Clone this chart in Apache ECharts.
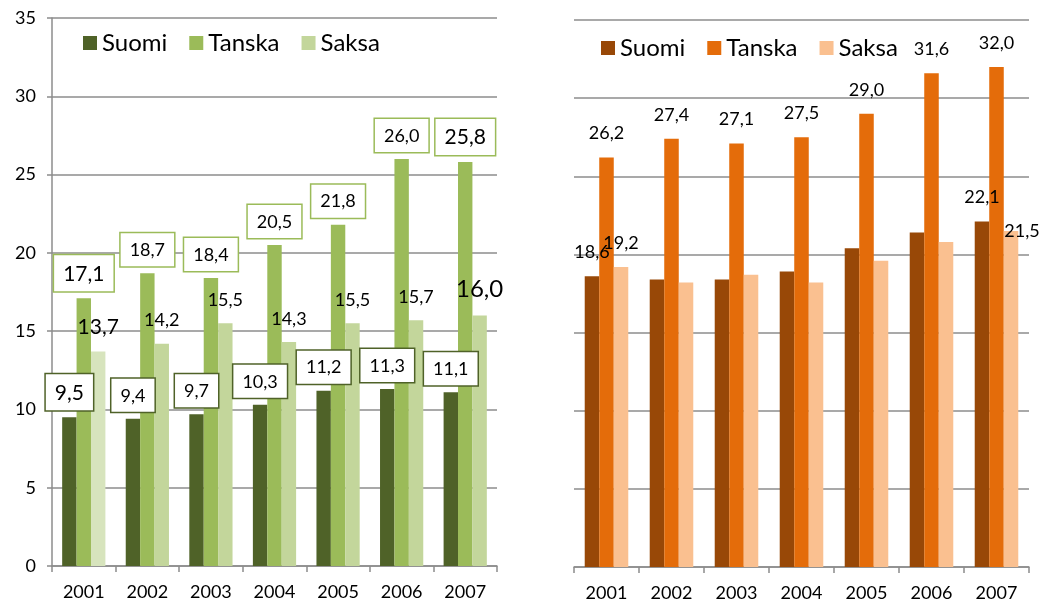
<!DOCTYPE html>
<html>
<head>
<meta charset="utf-8">
<script src="https://cdn.jsdelivr.net/npm/echarts@6/dist/echarts.min.js"></script>
<style>
  html, body { margin: 0; padding: 0; background: #fff; }
  #left { position: absolute; left: 0; top: 0; width: 530px; height: 605px; }
  #right { position: absolute; left: 530px; top: 0; width: 531px; height: 605px; }
</style>
</head>
<body>
<div id="left"></div>
<div id="right"></div>
<script>
// ---- data ----
const years = ['2001', '2002', '2003', '2004', '2005', '2006', '2007'];
const seriesNames = ['Suomi', 'Tanska', 'Saksa'];
const leftSuomi  = [9.5, 9.4, 9.7, 10.3, 11.2, 11.3, 11.1];
const leftTanska = [17.1, 18.7, 18.4, 20.5, 21.8, 26.0, 25.8];
const leftSaksa  = [13.7, 14.2, 15.5, 14.3, 15.5, 15.7, 16.0];
const rightSuomi  = [18.6, 18.4, 18.4, 18.9, 20.4, 21.4, 22.1];
const rightTanska = [26.2, 27.4, 27.1, 27.5, 29.0, 31.6, 32.0];
const rightSaksa  = [19.2, 18.2, 18.7, 18.2, 19.6, 20.8, 21.5];
const yMin = 0, yMax = 35, yStep = 5;

// ---- styling ----
const FONT = 'Lato';
const GRID_COLOR = '#8c8c8c';
const fmt = v => v.toFixed(1).replace('.', ',');

function boxedLabel(border, fontSize) {
  return {
    show: true, position: 'top', distance: 7,
    formatter: p => fmt(p.value),
    color: '#000', fontFamily: FONT, fontSize: fontSize,
    backgroundColor: '#fff', borderColor: border, borderWidth: 1.5,
    padding: [8, 9, 7, 9]
  };
}
function plainLabel(fontSize, extra) {
  return Object.assign({
    show: true, position: 'top', distance: 14,
    formatter: p => fmt(p.value),
    color: '#000', fontFamily: FONT, fontSize: fontSize
  }, extra || {});
}

function axes(showYLabels) {
  return {
    xAxis: {
      type: 'category', data: years,
      axisLine: { show: true, lineStyle: { color: GRID_COLOR, width: 1.5 } },
      axisTick: { show: true, length: 6, lineStyle: { color: GRID_COLOR, width: 1.5 } },
      axisLabel: { color: '#000', fontFamily: FONT, fontSize: 18, margin: 17 }
    },
    yAxis: {
      type: 'value', min: yMin, max: yMax, interval: yStep,
      axisLine: { show: showYLabels, lineStyle: { color: GRID_COLOR, width: 1.5 } },
      axisTick: { show: showYLabels, length: 5, lineStyle: { color: GRID_COLOR, width: 1.5 } },
      axisLabel: { show: showYLabels, color: '#000', fontFamily: FONT, fontSize: 18, margin: 16 },
      splitLine: { show: true, lineStyle: { color: GRID_COLOR, width: 1.5 } }
    }
  };
}

// ---- left chart ----
const leftColors = ['#4F6228', '#9BBB59', '#C3D69B'];

const lSuomiData = leftSuomi.map((v, i) => ({
  value: v, label: boxedLabel('#4F6228', i === 0 ? 21 : 18)
}));
const lTanskaData = leftTanska.map((v, i) => ({
  value: v, label: boxedLabel('#9BBB59', (i === 0 || i === 6) ? 21 : 18)
}));
const lSaksaData = leftSaksa.map((v, i) => ({
  value: v,
  itemStyle: i === 0 ? { color: '#D7E4BD' } : undefined,
  label: plainLabel(i === 0 ? 21 : (i === 6 ? 24 : 18))
}));

const leftChart = echarts.init(document.getElementById('left'), null, { renderer: 'canvas' });
const la = axes(true);
leftChart.setOption({
  animation: false,
  color: leftColors,
  textStyle: { fontFamily: FONT },
  legend: {
    data: seriesNames, left: 78, top: 26,
    itemWidth: 14, itemHeight: 14, itemGap: 22, icon: 'rect',
    textStyle: { fontFamily: FONT, fontSize: 24, color: '#000' }
  },
  grid: { left: 52, top: 18, width: 445, height: 548, containLabel: false },
  xAxis: la.xAxis, yAxis: la.yAxis,
  series: [
    { name: 'Suomi', type: 'bar', data: lSuomiData, barGap: 0, barCategoryGap: '32%' },
    { name: 'Tanska', type: 'bar', data: lTanskaData, barGap: 0, barCategoryGap: '32%' },
    { name: 'Saksa', type: 'bar', data: lSaksaData, barGap: 0, barCategoryGap: '32%' }
  ]
});

// ---- right chart ----
const rightColors = ['#984807', '#E46C0A', '#FAC090'];
const rightLabelIdx = [0, 6];
const rSuomiData = rightSuomi.map((v, i) => ({
  value: v, label: rightLabelIdx.includes(i) ? plainLabel(18, { distance: 15 }) : { show: false }
}));
const rTanskaData = rightTanska.map(v => ({ value: v, label: plainLabel(18, { distance: 15 }) }));
const rSaksaData = rightSaksa.map((v, i) => ({
  value: v,
  label: i === 0 ? plainLabel(18, { distance: 15 })
       : i === 6 ? plainLabel(18, { distance: 15, offset: [11, 24] })
       : { show: false }
}));

const rightChart = echarts.init(document.getElementById('right'), null, { renderer: 'canvas' });
const ra = axes(false);
rightChart.setOption({
  animation: false,
  color: rightColors,
  textStyle: { fontFamily: FONT },
  legend: {
    data: seriesNames, left: 66, top: 31,
    itemWidth: 14, itemHeight: 14, itemGap: 22, icon: 'rect',
    textStyle: { fontFamily: FONT, fontSize: 24, color: '#000' }
  },
  grid: { left: 44, top: 20, width: 455, height: 547, containLabel: false },
  xAxis: ra.xAxis, yAxis: ra.yAxis,
  series: [
    { name: 'Suomi', type: 'bar', data: rSuomiData, barGap: 0, barCategoryGap: '33%' },
    { name: 'Tanska', type: 'bar', data: rTanskaData, barGap: 0, barCategoryGap: '33%' },
    { name: 'Saksa', type: 'bar', data: rSaksaData, barGap: 0, barCategoryGap: '33%' }
  ]
});
</script>
</body>
</html>
